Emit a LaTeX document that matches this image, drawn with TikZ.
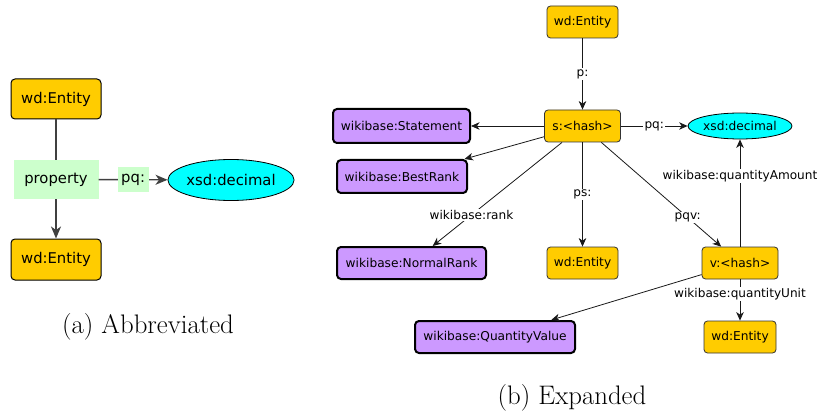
\documentclass[tikz,border=0pt]{standalone}
\usepackage{fontspec}
\newfontfamily\dv{DejaVu Sans}
\usetikzlibrary{arrows.meta,shapes.geometric}
\definecolor{orng}{HTML}{FFCC00}
\definecolor{purp}{HTML}{CC99FF}
\definecolor{cyn}{HTML}{00FFFF}
\definecolor{grn}{HTML}{CCFFCC}
\tikzset{
  lbox/.style={draw=black,line width=1pt,rounded corners=4pt,fill=orng,inner sep=0pt,font=\dv\fontsize{14.8}{16}\selectfont},
  obox/.style={draw=black!80,line width=0.8pt,rounded corners=3.5pt,fill=orng,inner sep=0pt,font=\dv\fontsize{12.2}{14}\selectfont},
  pbox/.style={draw=black,line width=2pt,rounded corners=4pt,fill=purp,inner sep=0pt,font=\dv\fontsize{12.2}{14}\selectfont},
  cell/.style={draw=black,line width=0.8pt,ellipse,fill=cyn,inner sep=0pt},
  ledge/.style={draw=black!75,line width=1.4pt},
  larrow/.style={ledge,-{Stealth[length=12pt,width=10pt,inset=3.5pt]}},
  redge/.style={draw=black!90,line width=0.8pt,-{Stealth[length=8.5pt,width=7.5pt,inset=2.5pt]}},
  elab/.style={fill=white,inner sep=1.2pt,font=\dv\fontsize{12.1}{13}\selectfont},
  captext/.style={font=\fontsize{26.8}{30}\selectfont,inner sep=0pt}
}
\begin{document}
\begin{tikzpicture}[x=1pt,y=-1pt]
\useasboundingbox (0,0) rectangle (819,414);
% ---- (a) Abbreviated
\node[lbox,minimum width=90pt,minimum height=40pt] (aTop) at (56,99) {wd:Entity};
\node[fill=grn,inner sep=0pt,minimum width=85pt,minimum height=39pt,font=\dv\fontsize{14.8}{16}\selectfont] (aProp) at (56,179.5) {property};
\node[lbox,minimum width=90pt,minimum height=41pt] (aBot) at (56,259.5) {wd:Entity};
\node[cell,minimum width=112pt,minimum height=41pt,font=\dv\fontsize{14.8}{16}\selectfont] (aDec) at (231,180) {xsd:decimal};
\draw[ledge] (aTop) -- (aProp);
\draw[larrow] (aProp) -- (aBot);
\draw[larrow] (aProp) -- node[fill=grn,inner sep=0pt,minimum width=31pt,minimum height=25pt,font=\dv\fontsize{14.8}{16}\selectfont] (aPq) {pq:} (aDec);
\node[captext] (capA) at (148,327) {(a) Abbreviated};
% ---- (b) Expanded
\node[obox,minimum width=71pt,minimum height=32pt] (wdTop) at (582.5,22) {wd:Entity};
\node[obox,minimum width=76pt,minimum height=32pt] (s) at (582.5,126) {s:<hash>};
\node[pbox,minimum width=137pt,minimum height=34pt] (stmt) at (401.5,126) {wikibase:Statement};
\node[pbox,minimum width=130pt,minimum height=33pt] (best) at (402,176.5) {wikibase:BestRank};
\node[pbox,minimum width=149pt,minimum height=32pt] (norm) at (411.5,263) {wikibase:NormalRank};
\node[obox,minimum width=71pt,minimum height=32pt] (wdMid) at (582.5,263) {wd:Entity};
\node[obox,minimum width=76pt,minimum height=32pt] (v) at (740,263) {v:<hash>};
\node[cell,minimum width=90pt,minimum height=26pt,font=\dv\fontsize{12.2}{14}\selectfont] (dec) at (740,126) {xsd:decimal};
\node[pbox,minimum width=160pt,minimum height=32pt] (qv) at (495,337) {wikibase:QuantityValue};
\node[obox,minimum width=72pt,minimum height=32pt] (wdBot) at (740,337) {wd:Entity};
\draw[redge] (wdTop) -- node[elab] (lp) {p:} (s);
\draw[redge] (s) -- (stmt);
\draw[redge] (s) -- (best);
\draw[redge] (s) -- node[elab,pos=0.7] (lrank) {wikibase:rank} (norm);
\draw[redge] (s) -- node[elab] (lps) {ps:} (wdMid);
\draw[redge] (s) -- node[elab,pos=0.72] (lpqv) {pqv:} (v);
\draw[redge] (s) -- node[elab] (lpq) {pq:} (dec);
\draw[redge] (v) -- node[elab,pos=0.66] (lamt) {wikibase:quantityAmount} (dec);
\draw[redge] (v) -- (qv);
\draw[redge] (v) -- node[elab,pos=0.36] (lunit) {wikibase:quantityUnit} (wdBot);
\node[captext] (capB) at (572,398) {(b) Expanded};
\end{tikzpicture}
\end{document}
